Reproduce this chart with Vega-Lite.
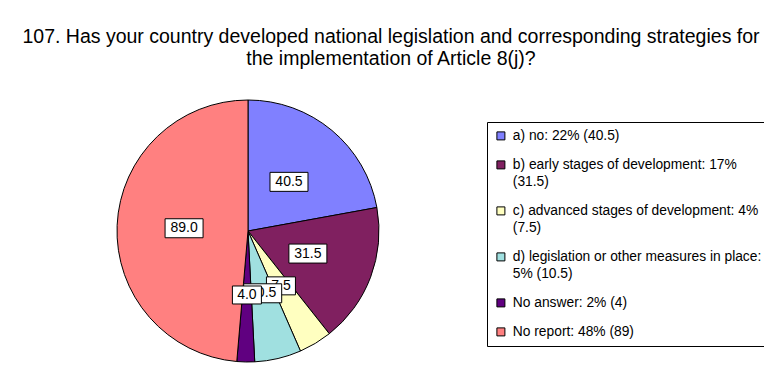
{
  "$schema": "https://vega.github.io/schema/vega-lite/v6.json",
  "width": 262,
  "height": 262,
  "autosize": {"type": "none"},
  "padding": {"left": 117, "top": 100, "right": 385, "bottom": 23},
  "background": "white",
  "title": {
    "text": ["107. Has your country developed national legislation and corresponding strategies for", "the implementation of Article 8(j)?"],
    "font": "Liberation Sans",
    "fontSize": 19.5,
    "fontWeight": "normal",
    "color": "black",
    "anchor": "middle",
    "frame": "group",
    "baseline": "bottom",
    "dx": 143,
    "offset": 10,
    "lineHeight": 22
  },
  "data": {
    "values": [
      {"cat": "a) no: 22% (40.5)", "value": 40.5, "order": 1},
      {"cat": "b) early stages of development: 17%|(31.5)", "value": 31.5, "order": 2},
      {"cat": "c) advanced stages of development: 4%|(7.5)", "value": 7.5, "order": 3},
      {"cat": "d) legislation or other measures in place:|5% (10.5)", "value": 10.5, "order": 4},
      {"cat": "No answer: 2% (4)", "value": 4, "order": 5},
      {"cat": "No report: 48% (89)", "value": 89, "order": 6}
    ]
  },
  "transform": [
    {"stack": "value", "groupby": [], "sort": [{"field": "order", "order": "ascending"}], "as": ["v0", "v1"]},
    {"joinaggregate": [{"op": "sum", "field": "value", "as": "total"}]},
    {"calculate": "PI * (datum.v0 + datum.v1) / datum.total", "as": "mid"},
    {"calculate": "sin(datum.mid)", "as": "lx"},
    {"calculate": "cos(datum.mid)", "as": "ly"}
  ],
  "layer": [
    {
      "mark": {"type": "arc", "stroke": "black", "strokeWidth": 1},
      "encoding": {
        "theta": {"field": "value", "type": "quantitative", "stack": true},
        "order": {"field": "order", "type": "quantitative"},
        "color": {
          "field": "cat",
          "type": "nominal",
          "scale": {
            "domain": ["a) no: 22% (40.5)", "b) early stages of development: 17%|(31.5)", "c) advanced stages of development: 4%|(7.5)", "d) legislation or other measures in place:|5% (10.5)", "No answer: 2% (4)", "No report: 48% (89)"],
            "range": ["#8080FF", "#802060", "#FFFFC0", "#A0E0E0", "#600080", "#FF8080"]
          },
          "legend": {
            "title": null,
            "orient": "none",
            "legendX": 370,
            "legendY": 22,
            "padding": 7,
            "strokeColor": "black",
            "fillColor": "white",
            "symbolType": "square",
            "symbolSize": 64,
            "symbolStrokeColor": "black",
            "symbolStrokeWidth": 1,
            "symbolOpacity": 1,
            "labelFont": "Liberation Sans",
            "labelFontSize": 13.8,
            "labelColor": "black",
            "labelLimit": 400,
            "labelBaseline": "top",
            "labelOffset": 5,
            "rowPadding": 14,
            "labelExpr": "split(datum.label, '|')",
            "encode": {"labels": {"update": {"dy": {"value": -7}, "lineHeight": {"value": 17}}}}
          }
        }
      }
    },
    {
      "transform": [{"filter": "datum.order <= 3"}],
      "mark": {"type": "point", "filled": true, "fill": "white", "stroke": "black", "strokeWidth": 1, "opacity": 1},
      "encoding": {
        "x": {"field": "lx", "type": "quantitative", "scale": {"domain": [-2.047, 2.047], "nice": false, "zero": false}, "axis": null},
        "y": {"field": "ly", "type": "quantitative", "scale": {"domain": [-2.047, 2.047], "nice": false, "zero": false}, "axis": null},
        "shape": {"condition": {"test": "datum.value < 10", "value": "M-1,-0.62H1V0.62H-1Z"}, "value": "M-1,-0.5H1V0.5H-1Z"},
        "size": {"condition": {"test": "datum.value < 10", "value": 841}, "value": 1444}
      }
    },
    {
      "transform": [{"filter": "datum.order <= 3"}],
      "mark": {"type": "text", "font": "Liberation Sans", "fontSize": 14, "color": "black", "align": "center", "baseline": "middle"},
      "encoding": {
        "x": {"field": "lx", "type": "quantitative"},
        "y": {"field": "ly", "type": "quantitative"},
        "text": {"field": "value", "type": "quantitative", "format": ".1f"}
      }
    },
    {
      "transform": [{"filter": "datum.order == 4"}],
      "mark": {"type": "point", "filled": true, "fill": "white", "stroke": "black", "strokeWidth": 1, "opacity": 1},
      "encoding": {
        "x": {"field": "lx", "type": "quantitative"},
        "y": {"field": "ly", "type": "quantitative"},
        "shape": {"condition": {"test": "datum.value < 10", "value": "M-1,-0.62H1V0.62H-1Z"}, "value": "M-1,-0.5H1V0.5H-1Z"},
        "size": {"condition": {"test": "datum.value < 10", "value": 841}, "value": 1444}
      }
    },
    {
      "transform": [{"filter": "datum.order == 4"}],
      "mark": {"type": "text", "font": "Liberation Sans", "fontSize": 14, "color": "black", "align": "center", "baseline": "middle"},
      "encoding": {
        "x": {"field": "lx", "type": "quantitative"},
        "y": {"field": "ly", "type": "quantitative"},
        "text": {"field": "value", "type": "quantitative", "format": ".1f"}
      }
    },
    {
      "transform": [{"filter": "datum.order >= 5"}],
      "mark": {"type": "point", "filled": true, "fill": "white", "stroke": "black", "strokeWidth": 1, "opacity": 1},
      "encoding": {
        "x": {"field": "lx", "type": "quantitative"},
        "y": {"field": "ly", "type": "quantitative"},
        "shape": {"condition": {"test": "datum.value < 10", "value": "M-1,-0.62H1V0.62H-1Z"}, "value": "M-1,-0.5H1V0.5H-1Z"},
        "size": {"condition": {"test": "datum.value < 10", "value": 841}, "value": 1444}
      }
    },
    {
      "transform": [{"filter": "datum.order >= 5"}],
      "mark": {"type": "text", "font": "Liberation Sans", "fontSize": 14, "color": "black", "align": "center", "baseline": "middle"},
      "encoding": {
        "x": {"field": "lx", "type": "quantitative"},
        "y": {"field": "ly", "type": "quantitative"},
        "text": {"field": "value", "type": "quantitative", "format": ".1f"}
      }
    }
  ],
  "config": {"view": {"stroke": null}}
}
